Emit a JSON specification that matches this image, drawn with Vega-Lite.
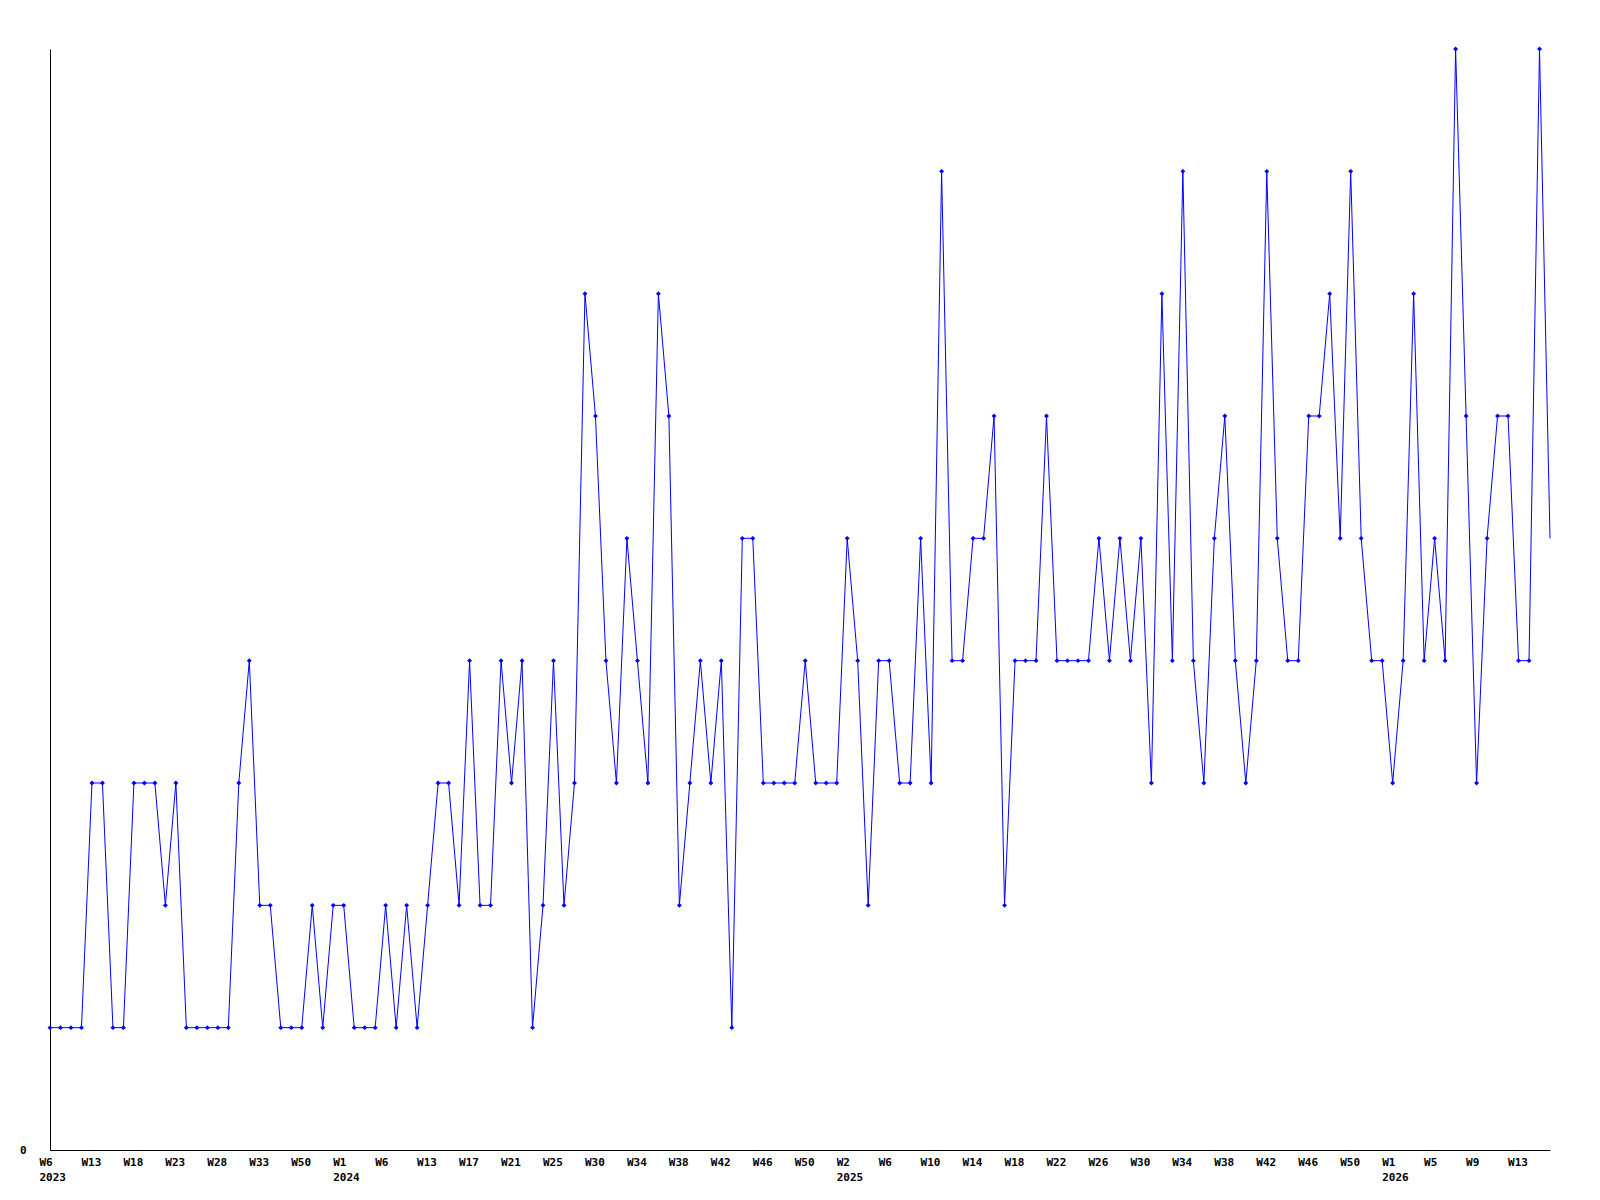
{
  "$schema": "https://vega.github.io/schema/vega-lite/v6.json",
  "width": 1500,
  "height": 1101,
  "autosize": "none",
  "padding": {"left": 50, "top": 49, "right": 50, "bottom": 50},
  "background": "white",
  "config": {"view": {"stroke": null}},
  "data": {"values": [
    {"week": "2023-W06", "count": 1}, {"week": "2023-W08", "count": 1}, {"week": "2023-W10", "count": 1}, {"week": "2023-W11", "count": 1},
    {"week": "2023-W13", "count": 3}, {"week": "2023-W14", "count": 3}, {"week": "2023-W16", "count": 1}, {"week": "2023-W17", "count": 1},
    {"week": "2023-W18", "count": 3}, {"week": "2023-W20", "count": 3}, {"week": "2023-W21", "count": 3}, {"week": "2023-W22", "count": 2},
    {"week": "2023-W23", "count": 3}, {"week": "2023-W24", "count": 1}, {"week": "2023-W25", "count": 1}, {"week": "2023-W27", "count": 1},
    {"week": "2023-W28", "count": 1}, {"week": "2023-W29", "count": 1}, {"week": "2023-W30", "count": 3}, {"week": "2023-W32", "count": 4},
    {"week": "2023-W33", "count": 2}, {"week": "2023-W40", "count": 2}, {"week": "2023-W44", "count": 1}, {"week": "2023-W47", "count": 1},
    {"week": "2023-W50", "count": 1}, {"week": "2023-W51", "count": 2}, {"week": "2023-W52", "count": 1}, {"week": "2023-W53", "count": 2},
    {"week": "2024-W01", "count": 2}, {"week": "2024-W02", "count": 1}, {"week": "2024-W04", "count": 1}, {"week": "2024-W05", "count": 1},
    {"week": "2024-W06", "count": 2}, {"week": "2024-W08", "count": 1}, {"week": "2024-W10", "count": 2}, {"week": "2024-W11", "count": 1},
    {"week": "2024-W13", "count": 2}, {"week": "2024-W14", "count": 3}, {"week": "2024-W15", "count": 3}, {"week": "2024-W16", "count": 2},
    {"week": "2024-W17", "count": 4}, {"week": "2024-W18", "count": 2}, {"week": "2024-W19", "count": 2}, {"week": "2024-W20", "count": 4},
    {"week": "2024-W21", "count": 3}, {"week": "2024-W22", "count": 4}, {"week": "2024-W23", "count": 1}, {"week": "2024-W24", "count": 2},
    {"week": "2024-W25", "count": 4}, {"week": "2024-W26", "count": 2}, {"week": "2024-W28", "count": 3}, {"week": "2024-W29", "count": 7},
    {"week": "2024-W30", "count": 6}, {"week": "2024-W31", "count": 4}, {"week": "2024-W32", "count": 3}, {"week": "2024-W33", "count": 5},
    {"week": "2024-W34", "count": 4}, {"week": "2024-W35", "count": 3}, {"week": "2024-W36", "count": 7}, {"week": "2024-W37", "count": 6},
    {"week": "2024-W38", "count": 2}, {"week": "2024-W39", "count": 3}, {"week": "2024-W40", "count": 4}, {"week": "2024-W41", "count": 3},
    {"week": "2024-W42", "count": 4}, {"week": "2024-W43", "count": 1}, {"week": "2024-W44", "count": 5}, {"week": "2024-W45", "count": 5},
    {"week": "2024-W46", "count": 3}, {"week": "2024-W47", "count": 3}, {"week": "2024-W48", "count": 3}, {"week": "2024-W49", "count": 3},
    {"week": "2024-W50", "count": 4}, {"week": "2024-W51", "count": 3}, {"week": "2024-W52", "count": 3}, {"week": "2025-W01", "count": 3},
    {"week": "2025-W02", "count": 5}, {"week": "2025-W03", "count": 4}, {"week": "2025-W04", "count": 2}, {"week": "2025-W05", "count": 4},
    {"week": "2025-W06", "count": 4}, {"week": "2025-W07", "count": 3}, {"week": "2025-W08", "count": 3}, {"week": "2025-W09", "count": 5},
    {"week": "2025-W10", "count": 3}, {"week": "2025-W11", "count": 8}, {"week": "2025-W12", "count": 4}, {"week": "2025-W13", "count": 4},
    {"week": "2025-W14", "count": 5}, {"week": "2025-W15", "count": 5}, {"week": "2025-W16", "count": 6}, {"week": "2025-W17", "count": 2},
    {"week": "2025-W18", "count": 4}, {"week": "2025-W19", "count": 4}, {"week": "2025-W20", "count": 4}, {"week": "2025-W21", "count": 6},
    {"week": "2025-W22", "count": 4}, {"week": "2025-W23", "count": 4}, {"week": "2025-W24", "count": 4}, {"week": "2025-W25", "count": 4},
    {"week": "2025-W26", "count": 5}, {"week": "2025-W27", "count": 4}, {"week": "2025-W28", "count": 5}, {"week": "2025-W29", "count": 4},
    {"week": "2025-W30", "count": 5}, {"week": "2025-W31", "count": 3}, {"week": "2025-W32", "count": 7}, {"week": "2025-W33", "count": 4},
    {"week": "2025-W34", "count": 8}, {"week": "2025-W35", "count": 4}, {"week": "2025-W36", "count": 3}, {"week": "2025-W37", "count": 5},
    {"week": "2025-W38", "count": 6}, {"week": "2025-W39", "count": 4}, {"week": "2025-W40", "count": 3}, {"week": "2025-W41", "count": 4},
    {"week": "2025-W42", "count": 8}, {"week": "2025-W43", "count": 5}, {"week": "2025-W44", "count": 4}, {"week": "2025-W45", "count": 4},
    {"week": "2025-W46", "count": 6}, {"week": "2025-W47", "count": 6}, {"week": "2025-W48", "count": 7}, {"week": "2025-W49", "count": 5},
    {"week": "2025-W50", "count": 8}, {"week": "2025-W51", "count": 5}, {"week": "2025-W52", "count": 4}, {"week": "2025-W53", "count": 4},
    {"week": "2026-W01", "count": 3}, {"week": "2026-W02", "count": 4}, {"week": "2026-W03", "count": 7}, {"week": "2026-W04", "count": 4},
    {"week": "2026-W05", "count": 5}, {"week": "2026-W06", "count": 4}, {"week": "2026-W07", "count": 9}, {"week": "2026-W08", "count": 6},
    {"week": "2026-W09", "count": 3}, {"week": "2026-W10", "count": 5}, {"week": "2026-W11", "count": 6}, {"week": "2026-W12", "count": 6},
    {"week": "2026-W13", "count": 4}, {"week": "2026-W14", "count": 4}, {"week": "2026-W15", "count": 9}, {"week": "2026-W16", "count": 5}
  ]},
  "encoding": {
    "x": {
      "field": "week",
      "type": "ordinal",
      "sort": null,
      "scale": {"type": "point", "padding": 0},
      "axis": {
        "title": null,
        "values": ["2023-W06","2023-W13","2023-W18","2023-W23","2023-W28","2023-W33","2023-W50","2024-W01","2024-W06","2024-W13","2024-W17","2024-W21","2024-W25","2024-W30","2024-W34","2024-W38","2024-W42","2024-W46","2024-W50","2025-W02","2025-W06","2025-W10","2025-W14","2025-W18","2025-W22","2025-W26","2025-W30","2025-W34","2025-W38","2025-W42","2025-W46","2025-W50","2026-W01","2026-W05","2026-W09","2026-W13"],
        "labelExpr": "indexof(['2023-W06','2024-W01','2025-W02','2026-W01'], datum.value) >= 0 ? ['W' + toNumber(substring(datum.value, 6)), substring(datum.value, 0, 4)] : 'W' + toNumber(substring(datum.value, 6))",
        "labelAngle": 0,
        "labelAlign": "left",
        "labelOffset": -11,
        "labelPadding": 6,
        "labelLineHeight": 15,
        "labelFont": "DejaVu Sans Mono",
        "labelFontWeight": "bold",
        "labelFontSize": 11,
        "labelColor": "black",
        "labelOverlap": false,
        "labelBound": false,
        "ticks": false,
        "grid": false,
        "domainColor": "black",
        "domainWidth": 1
      }
    },
    "y": {
      "field": "count",
      "type": "quantitative",
      "scale": {"domain": [0, 9], "nice": false, "zero": true},
      "axis": {
        "title": null,
        "values": [0],
        "ticks": false,
        "grid": false,
        "labelPadding": 24,
        "labelFont": "DejaVu Sans Mono",
        "labelFontWeight": "bold",
        "labelFontSize": 11,
        "labelColor": "black",
        "domainColor": "black",
        "domainWidth": 1
      }
    }
  },
  "layer": [
    {"mark": {"type": "line", "color": "#0000ff", "strokeWidth": 1, "interpolate": "linear"}},
    {
      "transform": [{"filter": "datum.week != '2026-W16'"}],
      "mark": {"type": "point", "shape": "diamond", "filled": true, "color": "#0000ff", "size": 24, "opacity": 1}
    }
  ]
}
